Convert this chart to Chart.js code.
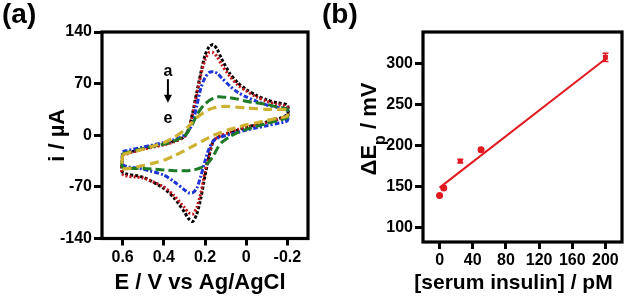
<!DOCTYPE html>
<html>
<head>
<meta charset="utf-8">
<script src="https://cdn.jsdelivr.net/npm/chart.js@4/dist/chart.umd.min.js"></script>
<style>
html, body { margin: 0; padding: 0; background: #fff; }
#wrap { position: relative; width: 632px; height: 299px; overflow: hidden; }
#cvA { position: absolute; left: 0; top: 0; }
#cvB { position: absolute; left: 320px; top: 0; }
</style>
</head>
<body>
<div id="wrap">
  <canvas id="cvA" width="320" height="299"></canvas>
  <canvas id="cvB" width="312" height="299"></canvas>
</div>
<script>
// ---- (a) cyclic voltammograms ----
// potentials of the sweep (V), forward sweep goes 0.6 -> -0.2, reverse comes back
const sweepE = [0.6, 0.5, 0.4, 0.35, 0.3, 0.28, 0.26, 0.24, 0.22, 0.2, 0.18, 0.16, 0.14, 0.12, 0.08, 0.04, 0, -0.05, -0.1, -0.15, -0.2]
// currents (uA) at sweepE, forward and reverse branch
const fwdA = [-26, -18, -12, -8, -2, 8, 30, 58, 85, 108, 120, 123, 116, 104, 84, 71, 62, 54, 48, 44, 41]
const revA = [-50, -57, -72, -85, -104, -113, -117, -107, -85, -55, -28, -8, -3, -1, 3, 7, 11, 14, 18, 22, 28]
const fwdB = [-27, -19, -13, -9, -2, 8, 28, 55, 82, 102, 112, 112, 106, 96, 80, 68, 60, 52, 46, 42, 38]
const revB = [-53, -58, -70, -82, -98, -105, -107, -98, -78, -50, -25, -8, -3, 0, 4, 8, 11, 14, 17, 21, 26]
const fwdC = [-22, -16, -10, -6, 0, 6, 16, 40, 64, 78, 85, 86, 84, 78, 67, 58, 52, 46, 41, 38, 35]
const revC = [-40, -46, -54, -63, -74, -78, -78, -72, -55, -35, -18, -8, -4, -2, 1, 4, 7, 10, 13, 16, 20]
const fwdD = [-25, -18, -12, -8, -1, 6, 16, 27, 36, 42, 47, 50, 52, 52, 51, 49, 46, 44, 42, 38, 35]
const revD = [-43, -45, -47, -48, -48, -48, -47, -46, -44, -41, -36, -28, -18, -10, -2, 4, 8, 12, 16, 20, 24]
const fwdE = [-26, -19, -10, -3, 7, 12, 18, 24, 28, 32, 35, 37, 38, 39, 39, 38, 37, 36, 35, 35, 34]
const revE = [-45, -41, -34, -28, -21, -18, -15, -12, -9, -6, -3, 0, 2, 4, 8, 11, 14, 17, 20, 23, 26]
const ticksE = [0.6, 0.4, 0.2, 0, -0.2]
const ticksI = [140, 70, 0, -70, -140]

// ---- (b) calibration ----
const insulin = [0, 5, 25, 50, 200]
const deltaEp = [139, 148, 181, 195, 308]
const deltaEpErr = [0, 0, 2, 2, 5]
const fitX = [0, 200]
const fitY = [148.5, 306]
const ticksIns = [0, 40, 80, 120, 160, 200]
const ticksEp = [100, 150, 200, 250, 300]

const RED = '#e01a20'
const FONT = 'Arial, "Liberation Sans", sans-serif'
const tickFont = { family: FONT, size: 16, weight: 'bold' }
const titleFont = { family: FONT, size: 22, weight: 'bold' }

// closed loop: forward branch then reverse branch back to start
const loop = (fwd, rev) => {
    const pts = sweepE.map((e, i) => ({ x: e, y: fwd[i] }))
    for (let i = sweepE.length - 1; i >= 0; i--) pts.push({ x: sweepE[i], y: rev[i] })
    pts.push({ x: sweepE[0], y: fwd[0] })
    return pts
}

const frame = {
    id: 'frame',
    afterDraw(chart) {
        const { ctx, chartArea: a } = chart
        ctx.save()
        ctx.lineWidth = 3.2
        ctx.strokeStyle = '#000'
        ctx.strokeRect(a.left, a.top, a.right - a.left, a.bottom - a.top)
        ctx.restore()
    }
}

// panel letter and bottom axis title
const labels = {
    id: 'labels',
    afterDraw(chart, args, opts) {
        const { ctx, chartArea: a } = chart
        ctx.save()
        ctx.fillStyle = '#000'
        ctx.textBaseline = 'middle'
        ctx.font = 'bold 28px ' + FONT
        ctx.fillText(opts.panel, 2, 15)
        ctx.font = 'bold ' + opts.size + 'px ' + FONT
        ctx.textAlign = 'center'
        ctx.fillText(opts.xTitle, (a.left + a.right) / 2 + opts.dx, 283)
        ctx.restore()
    }
}

// "a -> e" arrow inside panel (a)
const arrowNote = {
    id: 'arrowNote',
    afterDatasetsDraw(chart) {
        const { ctx, scales: { x, y } } = chart
        const px = x.getPixelForValue(0.38)
        ctx.save()
        ctx.fillStyle = '#000'
        ctx.strokeStyle = '#000'
        ctx.font = 'bold 16px ' + FONT
        ctx.textAlign = 'center'
        ctx.textBaseline = 'middle'
        ctx.fillText('a', px, y.getPixelForValue(86))
        ctx.fillText('e', px, y.getPixelForValue(23))
        const y0 = y.getPixelForValue(76), y1 = y.getPixelForValue(44)
        ctx.lineWidth = 2
        ctx.beginPath(); ctx.moveTo(px, y0); ctx.lineTo(px, y1 - 5); ctx.stroke()
        ctx.beginPath(); ctx.moveTo(px - 4, y1 - 8); ctx.lineTo(px + 4, y1 - 8); ctx.lineTo(px, y1); ctx.closePath(); ctx.fill()
        ctx.restore()
    }
}

const errorBars = {
    id: 'errorBars',
    afterDatasetsDraw(chart) {
        const { ctx, scales: { x, y } } = chart
        ctx.save()
        ctx.strokeStyle = RED
        ctx.lineWidth = 1.5
        insulin.forEach((c, i) => {
            if (!deltaEpErr[i]) return
            const px = x.getPixelForValue(c)
            const top = y.getPixelForValue(deltaEp[i] + deltaEpErr[i])
            const bot = y.getPixelForValue(deltaEp[i] - deltaEpErr[i])
            ctx.beginPath()
            ctx.moveTo(px, top); ctx.lineTo(px, bot)
            ctx.moveTo(px - 3, top); ctx.lineTo(px + 3, top)
            ctx.moveTo(px - 3, bot); ctx.lineTo(px + 3, bot)
            ctx.stroke()
        })
        ctx.restore()
    }
}

// y title of (b) with subscript p
const epTitle = {
    id: 'epTitle',
    afterDraw(chart) {
        const { ctx, chartArea: a } = chart
        ctx.save()
        ctx.translate(50, (a.top + a.bottom) / 2 - 8)
        ctx.rotate(-Math.PI / 2)
        ctx.fillStyle = '#000'
        ctx.textBaseline = 'middle'
        const big = 'bold 22px ' + FONT, small = 'bold 16px ' + FONT
        ctx.font = big
        const w1 = ctx.measureText('\u0394E').width
        const w3 = ctx.measureText(' / mV').width
        ctx.font = small
        const w2 = ctx.measureText('p').width
        const sx = -(w1 + w2 + w3) / 2
        ctx.font = big
        ctx.fillText('\u0394E', sx, 0)
        ctx.font = small
        ctx.fillText('p', sx + w1, 11)
        ctx.font = big
        ctx.fillText(' / mV', sx + w1 + w2, 0)
        ctx.restore()
    }
}

const axisBase = (ticksList, tickLen) => ({
    type: 'linear',
    afterBuildTicks: s => { s.ticks = ticksList.map(v => ({ value: v })) },
    ticks: { font: tickFont, color: '#000', padding: 2, autoSkip: false, maxRotation: 0, callback: v => String(v) },
    grid: { drawOnChartArea: false, drawTicks: true, tickLength: tickLen, tickWidth: 3, tickColor: '#000', color: '#000' },
    border: { display: false }
})

new Chart(document.getElementById('cvA'), {
    type: 'scatter',
    data: {
        datasets: [
            { data: loop(fwdA, revA), borderColor: '#000', borderWidth: 3, borderDash: [3, 2], order: 5 },
            { data: loop(fwdB, revB), borderColor: '#c3161c', borderWidth: 3, borderDash: [2, 2], order: 4 },
            { data: loop(fwdC, revC), borderColor: '#1c34d8', borderWidth: 3, borderDash: [5, 2, 2, 2], order: 3 },
            { data: loop(fwdD, revD), borderColor: '#1f7a26', borderWidth: 3, borderDash: [9, 4], order: 2 },
            { data: loop(fwdE, revE), borderColor: '#cdb231', borderWidth: 3.2, borderDash: [9, 5], order: 1 }
        ].map(d => Object.assign(d, { showLine: true, pointRadius: 0, tension: 0.25, fill: false }))
    },
    options: {
        responsive: false,
        animation: false,
        devicePixelRatio: 1,
        layout: { padding: { top: 32, right: 12, left: 0, bottom: 0 } },
        plugins: {
            legend: { display: false }, tooltip: { enabled: false },
            labels: { panel: '(a)', xTitle: 'E / V vs Ag/AgCl', size: 22, dx: -5 }
        },
        scales: {
            x: Object.assign(axisBase(ticksE, 7), {
                reverse: true, min: -0.3, max: 0.7,
                afterFit: s => { s.height = 60.5 }
            }),
            y: Object.assign(axisBase(ticksI, 8), {
                min: -140, max: 140,
                title: { display: true, text: 'i / \u00b5A', font: titleFont, color: '#000', padding: { top: 45, bottom: 0 } },
                afterFit: s => { s.width = 102 }
            })
        }
    },
    plugins: [frame, labels, arrowNote]
})

new Chart(document.getElementById('cvB'), {
    type: 'scatter',
    data: {
        datasets: [
            { data: fitX.map((v, i) => ({ x: v, y: fitY[i] })), showLine: true, borderColor: RED, borderWidth: 2, pointRadius: 0 },
            { data: insulin.map((v, i) => ({ x: v, y: deltaEp[i] })), pointStyle: ['circle', 'circle', 'rect', 'circle', 'rect'],
              pointRadius: 3.5, backgroundColor: RED, borderColor: RED, borderWidth: 0 }
        ]
    },
    options: {
        responsive: false,
        animation: false,
        devicePixelRatio: 1,
        layout: { padding: { top: 32, right: 10, left: 0, bottom: 0 } },
        plugins: {
            legend: { display: false }, tooltip: { enabled: false },
            labels: { panel: '(b)', xTitle: '[serum insulin] / pM', size: 21, dx: -9 }
        },
        scales: {
            x: Object.assign(axisBase(ticksIns, 7), {
                min: -20, max: 220,
                afterFit: s => { s.height = 57 }
            }),
            y: Object.assign(axisBase(ticksEp, 8), {
                min: 82, max: 339,
                afterFit: s => { s.width = 103 }
            })
        }
    },
    plugins: [frame, labels, errorBars, epTitle]
})
</script>
</body>
</html>
